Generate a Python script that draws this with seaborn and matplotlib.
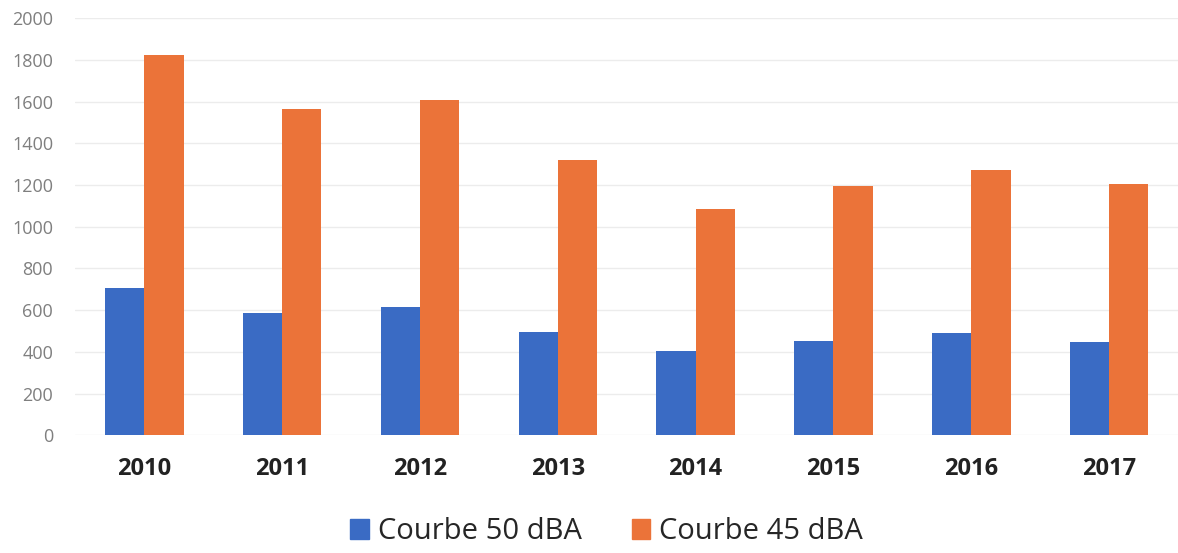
import pandas as pd
import numpy as np
import seaborn as sns
import matplotlib.pyplot as plt

years = ['2010', '2011', '2012', '2013', '2014', '2015', '2016', '2017']
courbe_50 = [705, 585, 615, 495, 405, 450, 490, 445]
courbe_45 = [1825, 1565, 1610, 1320, 1085, 1195, 1270, 1205]
series = ['Courbe 50 dBA', 'Courbe 45 dBA']
colors = ['#3A6BC4', '#EB7339']

df = pd.DataFrame({
    'Annee': years * 2,
    'Valeur': courbe_50 + courbe_45,
    'Serie': [series[0]] * len(years) + [series[1]] * len(years),
})

sns.set_style('white')
plt.rcParams['font.family'] = ['Open Sans', 'DejaVu Sans']

fig = plt.figure(figsize=(11.78, 5.53), dpi=100)
ax = fig.add_axes([0.064, 0.213, 0.936, 0.754])

sns.barplot(data=df, x='Annee', y='Valeur', hue='Serie', palette=colors,
            width=0.57, saturation=1, linewidth=0, ax=ax, legend=False)

ax.set_ylim(0, 2000)
ax.set_yticks(np.arange(0, 2001, 200))
ax.yaxis.grid(True, color='#ececec', linewidth=1)
ax.set_axisbelow(True)
for s in ax.spines.values():
    s.set_visible(False)
ax.set_xlabel('')
ax.set_ylabel('')
ax.tick_params(axis='y', labelsize=13, labelcolor='#7f7f7f', length=0, pad=16)
ax.tick_params(axis='x', labelsize=17, labelcolor='#222222', length=0, pad=16)
for lab in ax.get_xticklabels():
    lab.set_fontweight('bold')

handles = [plt.Rectangle((0, 0), 1, 1, color=c) for c in colors]
fig.legend(handles, series, loc='lower center', ncol=2, frameon=False,
           bbox_to_anchor=(0.515, -0.035), fontsize=21, handlelength=0.65,
           handleheight=0.65, handletextpad=0.3, columnspacing=1.7)

fig.savefig('out.png', dpi=100)
